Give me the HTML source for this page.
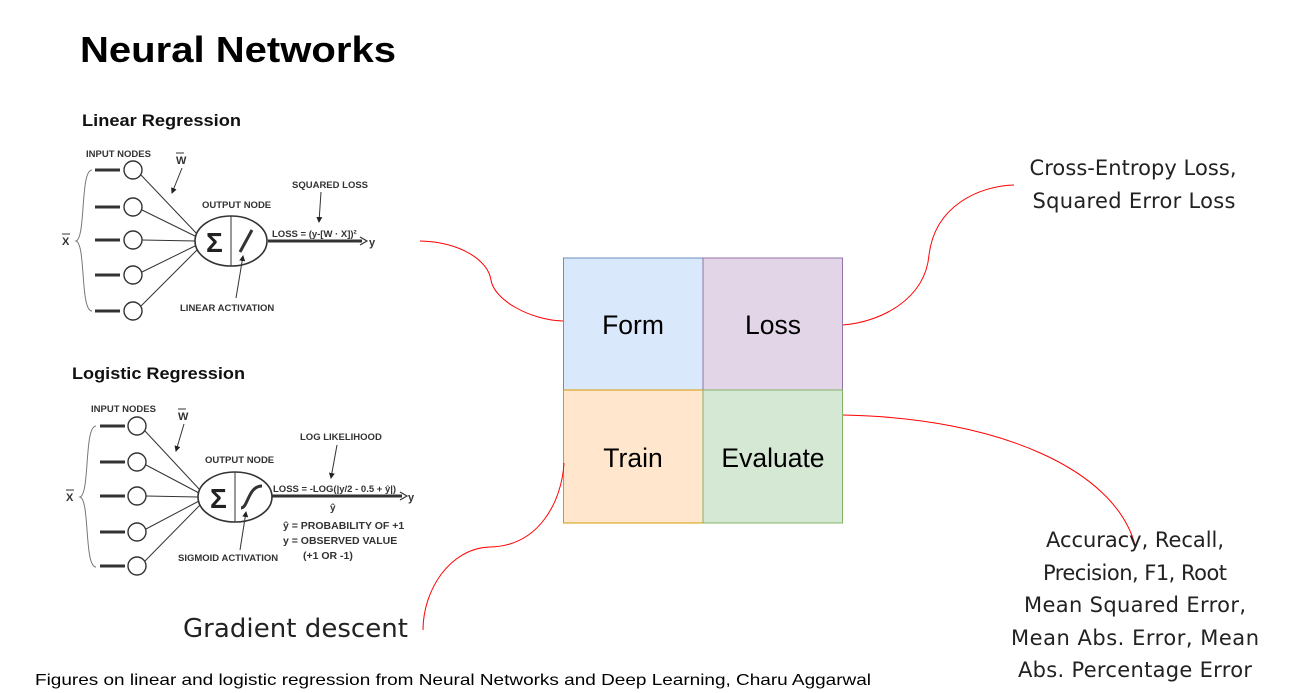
<!DOCTYPE html>
<html><head><meta charset="utf-8"><style>
body{margin:0;background:#fff;width:1300px;height:693px;overflow:hidden}
svg{display:block}
</style></head><body>
<svg width="1300" height="693" viewBox="0 0 1300 693" xmlns="http://www.w3.org/2000/svg" font-family="Liberation Sans, sans-serif">
<defs>
<marker id="ah" markerWidth="6" markerHeight="6" refX="5" refY="3" orient="auto"><path d="M0,0 L6,3 L0,6z" fill="#222"/></marker>
</defs>
<text x="80" y="62" font-size="36" font-weight="bold" fill="#000" textLength="316" lengthAdjust="spacingAndGlyphs">Neural Networks</text>

<!-- Linear regression -->
<g stroke="#333" fill="none">
<text x="82" y="126" font-size="17" font-weight="bold" fill="#111" stroke="none" textLength="159" lengthAdjust="spacingAndGlyphs">Linear Regression</text>
<text x="86" y="157" font-size="9.5" font-weight="bold" fill="#333" stroke="none">INPUT NODES</text>
<text x="176" y="164" font-size="11" font-weight="bold" fill="#333" stroke="none">W</text>
<line x1="176" y1="153" x2="184" y2="153" stroke-width="1"/>
<line x1="182" y1="168" x2="172" y2="193" stroke-width="1" marker-end="url(#ah)"/>
<path d="M92,170 C80,170 86,238 76,241 C86,244 80,311 92,311" stroke="#777" stroke-width="1"/>
<text x="62" y="245" font-size="11" font-weight="bold" fill="#333" stroke="none">X</text>
<line x1="62" y1="234" x2="70" y2="234" stroke-width="1"/>
<g stroke-width="3">
<line x1="95" y1="170" x2="120" y2="170"/><line x1="95" y1="207" x2="120" y2="207"/><line x1="95" y1="240" x2="120" y2="240"/><line x1="95" y1="275" x2="120" y2="275"/><line x1="95" y1="311" x2="120" y2="311"/>
</g>
<g stroke-width="1.4" fill="#fff">
<circle cx="133" cy="170" r="9"/><circle cx="133" cy="207" r="9"/><circle cx="133" cy="240" r="9"/><circle cx="133" cy="275" r="9"/><circle cx="133" cy="311" r="9"/>
</g>
<g stroke-width="1">
<line x1="141" y1="175" x2="198" y2="235"/><line x1="142" y1="210" x2="197" y2="237"/><line x1="142" y1="240" x2="196" y2="241"/><line x1="142" y1="272" x2="197" y2="245"/><line x1="141" y1="306" x2="199" y2="248"/>
</g>
<ellipse cx="231" cy="241" rx="36" ry="25" stroke-width="1.6" fill="#fff"/>
<line x1="231" y1="216" x2="231" y2="266" stroke-width="1"/>
<text x="206" y="252" font-size="28" font-weight="bold" fill="#222" stroke="none">Σ</text>
<line x1="240" y1="252" x2="252" y2="230" stroke-width="3"/>
<text x="202" y="208" font-size="9.5" font-weight="bold" fill="#333" stroke="none">OUTPUT NODE</text>
<text x="180" y="311" font-size="9.5" font-weight="bold" fill="#333" stroke="none">LINEAR ACTIVATION</text>
<line x1="236" y1="298" x2="243" y2="256" stroke-width="1" marker-end="url(#ah)"/>
<line x1="268" y1="241" x2="362" y2="241" stroke-width="3"/>
<path d="M360,237 L367,241 L360,245" stroke-width="1.2"/>
<text x="369" y="246" font-size="11" font-weight="bold" fill="#333" stroke="none">y</text>
<text x="272" y="237" font-size="9.5" font-weight="bold" fill="#333" stroke="none">LOSS = (y-[W · X])²</text>
<text x="292" y="188" font-size="9.5" font-weight="bold" fill="#333" stroke="none">SQUARED LOSS</text>
<line x1="321" y1="192" x2="319" y2="222" stroke-width="1" marker-end="url(#ah)"/>
</g>

<!-- Logistic regression -->
<g stroke="#333" fill="none">
<text x="72" y="379" font-size="17" font-weight="bold" fill="#111" stroke="none" textLength="173" lengthAdjust="spacingAndGlyphs">Logistic Regression</text>
<text x="91" y="412" font-size="9.5" font-weight="bold" fill="#333" stroke="none">INPUT NODES</text>
<text x="178" y="420" font-size="11" font-weight="bold" fill="#333" stroke="none">W</text>
<line x1="178" y1="409" x2="186" y2="409" stroke-width="1"/>
<line x1="184" y1="424" x2="176" y2="451" stroke-width="1" marker-end="url(#ah)"/>
<path d="M96,426 C84,426 90,494 80,497 C90,500 84,567 96,567" stroke="#777" stroke-width="1"/>
<text x="66" y="501" font-size="11" font-weight="bold" fill="#333" stroke="none">X</text>
<line x1="66" y1="490" x2="74" y2="490" stroke-width="1"/>
<g stroke-width="3">
<line x1="100" y1="426" x2="125" y2="426"/><line x1="100" y1="462" x2="125" y2="462"/><line x1="100" y1="496" x2="125" y2="496"/><line x1="100" y1="532" x2="125" y2="532"/><line x1="100" y1="566" x2="125" y2="566"/>
</g>
<g stroke-width="1.4" fill="#fff">
<circle cx="137" cy="426" r="9"/><circle cx="137" cy="462" r="9"/><circle cx="137" cy="496" r="9"/><circle cx="137" cy="532" r="9"/><circle cx="137" cy="566" r="9"/>
</g>
<g stroke-width="1">
<line x1="145" y1="431" x2="200" y2="490"/><line x1="146" y1="465" x2="199" y2="493"/><line x1="146" y1="496" x2="198" y2="497"/><line x1="146" y1="529" x2="199" y2="501"/><line x1="145" y1="561" x2="201" y2="504"/>
</g>
<ellipse cx="235" cy="497" rx="37" ry="25" stroke-width="1.6" fill="#fff"/>
<line x1="235" y1="472" x2="235" y2="522" stroke-width="1"/>
<text x="210" y="508" font-size="28" font-weight="bold" fill="#222" stroke="none">Σ</text>
<path d="M241,508 C248,508 248,486 262,486" stroke-width="3"/>
<text x="205" y="463" font-size="9.5" font-weight="bold" fill="#333" stroke="none">OUTPUT NODE</text>
<text x="178" y="561" font-size="9.5" font-weight="bold" fill="#333" stroke="none">SIGMOID ACTIVATION</text>
<line x1="240" y1="550" x2="246" y2="512" stroke-width="1" marker-end="url(#ah)"/>
<line x1="272" y1="496" x2="402" y2="496" stroke-width="3"/>
<path d="M400,492 L407,496 L400,500" stroke-width="1.2"/>
<text x="408" y="501" font-size="11" font-weight="bold" fill="#333" stroke="none">y</text>
<text x="273" y="492" font-size="9.5" font-weight="bold" fill="#333" stroke="none">LOSS = -LOG(|y/2 - 0.5 + ŷ|)</text>
<text x="330" y="511" font-size="10" font-weight="bold" fill="#333" stroke="none">ŷ</text>
<text x="300" y="440" font-size="9.5" font-weight="bold" fill="#333" stroke="none">LOG LIKELIHOOD</text>
<line x1="337" y1="445" x2="331" y2="478" stroke-width="1" marker-end="url(#ah)"/>
<text x="283" y="529" font-size="10.5" font-weight="bold" fill="#333" stroke="none">ŷ = PROBABILITY OF +1</text>
<text x="283" y="544" font-size="10.5" font-weight="bold" fill="#333" stroke="none">y = OBSERVED VALUE</text>
<text x="303" y="559" font-size="10.5" font-weight="bold" fill="#333" stroke="none">(+1 OR -1)</text>
</g>

<!-- Boxes -->
<rect x="563.5" y="258" width="139.5" height="132" fill="#dae8fc" stroke="#6c8ebf"/>
<rect x="703" y="258" width="139.5" height="132" fill="#e1d5e7" stroke="#9673a6"/>
<rect x="563.5" y="390" width="139.5" height="133" fill="#ffe6cc" stroke="#d79b00"/>
<rect x="703" y="390" width="139.5" height="133" fill="#d5e8d4" stroke="#82b366"/>
<g font-size="26.5" fill="#000" text-anchor="middle">
<text x="633" y="334">Form</text>
<text x="773" y="334">Loss</text>
<text x="633" y="467">Train</text>
<text x="773" y="467">Evaluate</text>
</g>

<!-- Curves -->
<g stroke="#ff0000" stroke-width="1" fill="none">
<path d="M420,241 C460,242 488,260 491,280 C494,300 530,320 563,321"/>
<path d="M843,325 C880,322 925,300 929,255 C935,205 980,186 1014,185"/>
<path d="M564,463 C562,500 540,546 490,547 C450,548 423,590 423,630"/>
<path d="M843,415 C1000,418 1115,470 1135,545"/>
</g>

<g font-family="DejaVu Sans, Liberation Sans, sans-serif" fill="#222" text-anchor="middle" font-size="21">
<text x="1133" y="175" textLength="207">Cross-Entropy Loss,</text>
<text x="1134" y="208" textLength="203">Squared Error Loss</text>
<text x="1135" y="547" textLength="178">Accuracy, Recall,</text>
<text x="1135" y="580" textLength="184">Precision, F1, Root</text>
<text x="1135" y="612" textLength="222">Mean Squared Error,</text>
<text x="1135" y="645" textLength="248">Mean Abs. Error, Mean</text>
<text x="1135" y="677" textLength="234">Abs. Percentage Error</text>
</g>
<text x="183" y="637" font-family="DejaVu Sans, sans-serif" font-size="26" fill="#222" textLength="225">Gradient descent</text>
<text x="35" y="685" font-size="16" fill="#000" textLength="836" lengthAdjust="spacingAndGlyphs">Figures on linear and logistic regression from Neural Networks and Deep Learning, Charu Aggarwal</text>
</svg>
</body></html>
